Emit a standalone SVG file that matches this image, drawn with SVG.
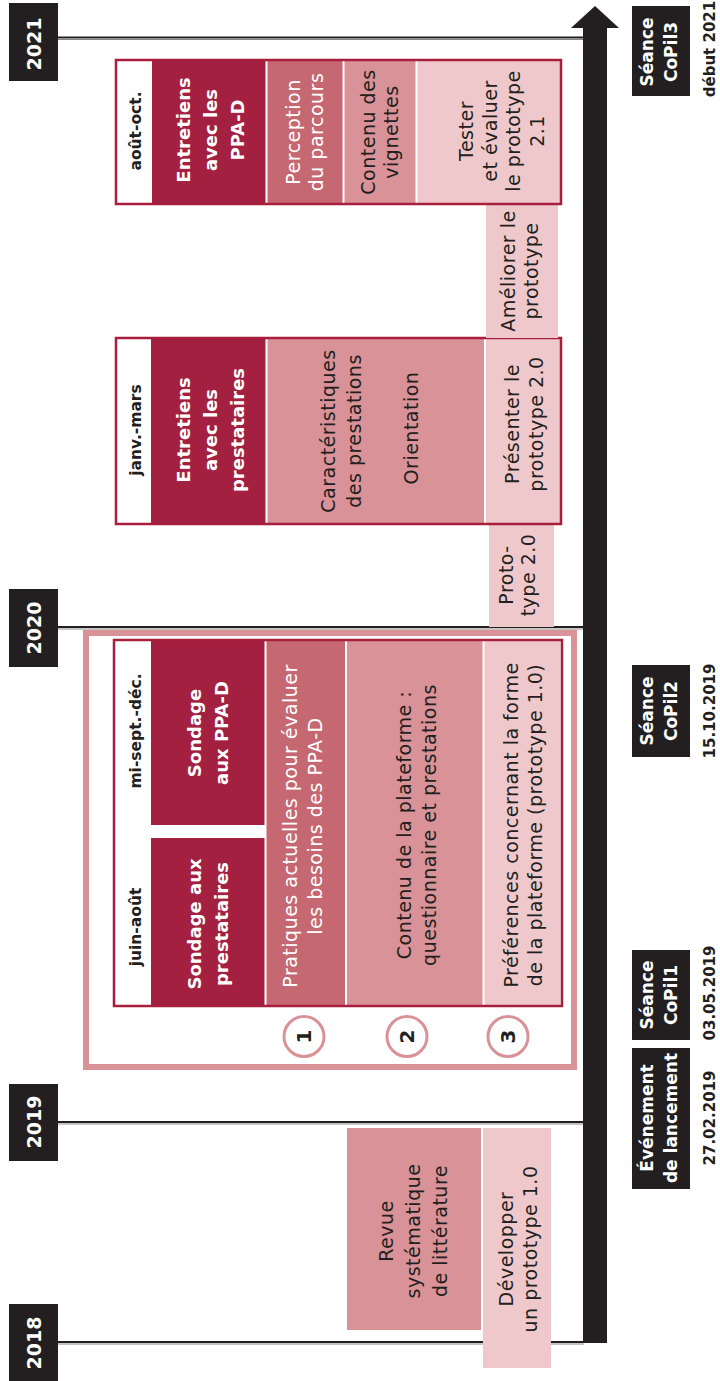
<svg xmlns="http://www.w3.org/2000/svg" width="720" height="1381" viewBox="0 0 720 1381">
  <style>
    text { font-family: "DejaVu Sans", "Liberation Sans", sans-serif; text-anchor: middle; }
    .t { font-size: 19px; letter-spacing: 0.5px; fill: #231f20; }
    .tw { font-size: 19px; letter-spacing: 0.5px; fill: #ffffff; }
    .h { font-size: 18px; font-weight: bold; fill: #ffffff; }
    .per { font-size: 15.5px; font-weight: bold; fill: #231f20; }
    .yr { font-size: 19px; font-weight: bold; fill: #ffffff; }
    .ev { font-size: 17px; font-weight: bold; fill: #ffffff; }
    .dt { font-size: 15px; font-weight: bold; fill: #231f20; }
    .num { font-size: 20px; font-weight: bold; fill: #231f20; }
    .c1 { fill: #a32040; }
    .c2 { fill: #c56872; }
    .c3 { fill: #d99297; }
    .c4 { fill: #efc8cb; }
    .frame { fill: none; stroke: #a81f3e; stroke-width: 2.5; }
    .dark { fill: #231f20; }
    .yline { stroke: #231f20; stroke-width: 2; }
    .yshade { stroke: #8a8788; stroke-width: 1; }
  </style>

  <!-- time axis: year rules and the main arrow -->
  <g id="axis">
    <line class="yshade" x1="58" y1="39.5" x2="584" y2="39.5"/>
    <line class="yline" x1="58" y1="37.5" x2="584" y2="37.5"/>
    <line class="yshade" x1="58" y1="629" x2="584" y2="629"/>
    <line class="yline" x1="58" y1="627" x2="584" y2="627"/>
    <line class="yshade" x1="58" y1="1124" x2="584" y2="1124"/>
    <line class="yline" x1="58" y1="1122" x2="584" y2="1122"/>
    <line class="yshade" x1="58" y1="1344" x2="584" y2="1344"/>
    <line class="yline" x1="58" y1="1342" x2="584" y2="1342"/>
    <rect class="dark" x="583" y="26" width="24" height="1317"/>
    <polygon class="dark" points="571,28 595,6 619,28"/>
  </g>

  <!-- year labels -->
  <g id="y2021"><rect class="dark" x="9" y="3" width="49" height="78"/>
    <text class="yr" transform="translate(41,44) rotate(-90)">2021</text></g>
  <g id="y2020"><rect class="dark" x="9" y="589" width="49" height="78"/>
    <text class="yr" transform="translate(41,628) rotate(-90)">2020</text></g>
  <g id="y2019"><rect class="dark" x="9" y="1084" width="49" height="77"/>
    <text class="yr" transform="translate(41,1122) rotate(-90)">2019</text></g>
  <g id="y2018"><rect class="dark" x="9" y="1304" width="49" height="77"/>
    <text class="yr" transform="translate(41,1343) rotate(-90)">2018</text></g>

  <!-- 2018-2019: literature review and first prototype -->
  <g id="revue">
    <rect class="c3" x="347" y="1128" width="134" height="202"/>
    <text class="t" transform="translate(393,1231) rotate(-90)"><tspan x="0" y="0">Revue</tspan><tspan x="0" y="27">systématique</tspan><tspan x="0" y="54">de littérature</tspan></text>
  </g>
  <g id="proto10">
    <rect class="c4" x="483" y="1128" width="68" height="240"/>
    <text class="t" transform="translate(513,1249) rotate(-90)"><tspan x="0" y="0">Développer</tspan><tspan x="0" y="24">un prototype 1.0</tspan></text>
  </g>

  <!-- 2019: surveys -->
  <g id="sondages">
    <rect x="86" y="633" width="488" height="434" fill="#ffffff" stroke="#d99297" stroke-width="6"/>
    <rect x="115" y="641" width="446" height="364" fill="#ffffff"/>
    <rect class="c1" x="151" y="641" width="113.5" height="184"/>
    <rect class="c1" x="151" y="838" width="113.5" height="167"/>
    <rect class="c2" x="266.5" y="641" width="78.5" height="364"/>
    <rect class="c3" x="347" y="641" width="135.5" height="364"/>
    <rect class="c4" x="484.5" y="641" width="76" height="364"/>
    <rect class="frame" x="114" y="640" width="448" height="366"/>
    <text class="per" transform="translate(141,731) rotate(-90)">mi-sept.-déc.</text>
    <text class="per" transform="translate(141,927) rotate(-90)">juin-août</text>
    <text class="h" transform="translate(201,733) rotate(-90)"><tspan x="0" y="0">Sondage</tspan><tspan x="0" y="27">aux PPA-D</tspan></text>
    <text class="h" transform="translate(201,924) rotate(-90)"><tspan x="0" y="0">Sondage aux</tspan><tspan x="0" y="27">prestataires</tspan></text>
    <text class="tw" transform="translate(297,826) rotate(-90)"><tspan x="0" y="0">Pratiques actuelles pour évaluer</tspan><tspan x="0" y="25">les besoins des PPA-D</tspan></text>
    <text class="t" transform="translate(411,825) rotate(-90)"><tspan x="0" y="0">Contenu de la plateforme :</tspan><tspan x="0" y="25">questionnaire et prestations</tspan></text>
    <text class="t" transform="translate(518,825) rotate(-90)"><tspan x="0" y="0">Préférences concernant la forme</tspan><tspan x="0" y="24">de la plateforme (prototype 1.0)</tspan></text>
    <circle cx="304" cy="1036.5" r="20" fill="#ffffff" stroke="#d99297" stroke-width="3"/>
    <circle cx="407" cy="1036.5" r="20" fill="#ffffff" stroke="#d99297" stroke-width="3"/>
    <circle cx="508" cy="1036.5" r="20" fill="#ffffff" stroke="#d99297" stroke-width="3"/>
    <text class="num" transform="translate(311,1036.5) rotate(-90)">1</text>
    <text class="num" transform="translate(414,1036.5) rotate(-90)">2</text>
    <text class="num" transform="translate(515,1036.5) rotate(-90)">3</text>
  </g>

  <!-- 2020: prototype 2.0 and interviews with providers -->
  <g id="proto20">
    <rect class="c4" x="489" y="524" width="65" height="103"/>
    <text class="t" transform="translate(513,575) rotate(-90)"><tspan x="0" y="0">Proto-</tspan><tspan x="0" y="22">type 2.0</tspan></text>
  </g>
  <g id="entretiens-prestataires">
    <rect x="116" y="338" width="445" height="186" fill="#ffffff"/>
    <rect class="c1" x="151" y="339" width="114.5" height="184"/>
    <rect class="c3" x="267.5" y="339" width="216.5" height="184"/>
    <rect class="c4" x="486" y="339" width="74.5" height="184"/>
    <rect class="frame" x="116" y="338" width="445" height="186"/>
    <text class="per" transform="translate(141,430) rotate(-90)">janv.-mars</text>
    <text class="h" transform="translate(190,430) rotate(-90)"><tspan x="0" y="0">Entretiens</tspan><tspan x="0" y="27">avec les</tspan><tspan x="0" y="54">prestataires</tspan></text>
    <text class="t" transform="translate(335,431) rotate(-90)"><tspan x="0" y="0">Caractéristiques</tspan><tspan x="0" y="26">des prestations</tspan></text>
    <text class="t" transform="translate(418,428) rotate(-90)">Orientation</text>
    <text class="t" transform="translate(519,424) rotate(-90)"><tspan x="0" y="0">Présenter le</tspan><tspan x="0" y="24">prototype 2.0</tspan></text>
  </g>

  <!-- 2020-2021: improving the prototype and interviews with PPA-D -->
  <g id="ameliorer">
    <rect class="c4" x="486" y="204" width="72" height="134"/>
    <text class="t" transform="translate(515,271) rotate(-90)"><tspan x="0" y="0">Améliorer le</tspan><tspan x="0" y="23">prototype</tspan></text>
  </g>
  <g id="entretiens-ppad">
    <rect x="116" y="60" width="445" height="144" fill="#ffffff"/>
    <rect class="c1" x="152" y="61" width="113.5" height="142"/>
    <rect class="c2" x="267.5" y="61" width="75" height="142"/>
    <rect class="c3" x="344.5" y="61" width="71" height="142"/>
    <rect class="c4" x="417.5" y="61" width="143" height="142"/>
    <rect class="frame" x="116" y="60" width="445" height="144"/>
    <text class="per" transform="translate(141,131) rotate(-90)">août-oct.</text>
    <text class="h" transform="translate(190,130) rotate(-90)"><tspan x="0" y="0">Entretiens</tspan><tspan x="0" y="27">avec les</tspan><tspan x="0" y="54">PPA-D</tspan></text>
    <text class="tw" transform="translate(300,132) rotate(-90)"><tspan x="0" y="0">Perception</tspan><tspan x="0" y="23">du parcours</tspan></text>
    <text class="t" transform="translate(375,132) rotate(-90)"><tspan x="0" y="0">Contenu des</tspan><tspan x="0" y="23">vignettes</tspan></text>
    <text class="t" transform="translate(473,131) rotate(-90)"><tspan x="0" y="0">Tester</tspan><tspan x="0" y="23.7">et évaluer</tspan><tspan x="0" y="47.4">le prototype</tspan><tspan x="0" y="71">2.1</tspan></text>
  </g>

  <!-- milestones along the arrow -->
  <g id="copil3">
    <rect class="dark" x="632" y="6" width="58" height="90"/>
    <text class="ev" transform="translate(653,52) rotate(-90)"><tspan x="0" y="0">Séance</tspan><tspan x="0" y="24">CoPil3</tspan></text>
    <text class="dt" transform="translate(715,49) rotate(-90)">début 2021</text>
  </g>
  <g id="copil2">
    <rect class="dark" x="632" y="665" width="58" height="92"/>
    <text class="ev" transform="translate(653,711) rotate(-90)"><tspan x="0" y="0">Séance</tspan><tspan x="0" y="24">CoPil2</tspan></text>
    <text class="dt" transform="translate(715,711) rotate(-90)">15.10.2019</text>
  </g>
  <g id="copil1">
    <rect class="dark" x="632" y="950" width="58" height="90"/>
    <text class="ev" transform="translate(653,995) rotate(-90)"><tspan x="0" y="0">Séance</tspan><tspan x="0" y="24">CoPil1</tspan></text>
    <text class="dt" transform="translate(715,993) rotate(-90)">03.05.2019</text>
  </g>
  <g id="lancement">
    <rect class="dark" x="632" y="1048" width="58" height="141"/>
    <text class="ev" transform="translate(653,1118) rotate(-90)"><tspan x="0" y="0">Événement</tspan><tspan x="0" y="24">de lancement</tspan></text>
    <text class="dt" transform="translate(715,1118) rotate(-90)">27.02.2019</text>
  </g>
</svg>
